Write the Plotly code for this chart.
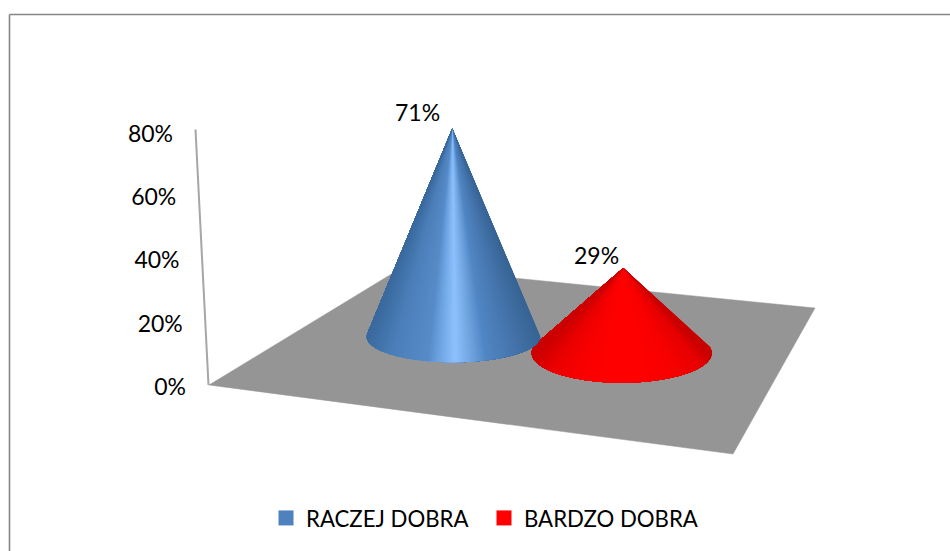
import math
import plotly.graph_objects as go

# ---- data ----
categories = ["RACZEJ DOBRA", "BARDZO DOBRA"]
values = [71, 29]
axis_ticks = [0, 20, 40, 60, 80]
tick_labels = ["0%", "20%", "40%", "60%", "80%"]

# ---- layout constants (plot uses x in px-like units, y in percent units) ----
W, H = 950, 551
PX0, PXPCT = 385.0, 3.194            # pixel row of 0 %, pixels per percent


def yd(py):
    return (PX0 - py) / PXPCT


FONT = "Lato"
FS_TICK = 23
FS_LEGEND = 22.2
FLOOR = [(209, 385), (733, 454), (815, 308), (403, 267)]
AXIS_TOP_X, AXIS_BOT_X = 195.5, 208.5
LABEL_GAP = 22.5
LABEL_ZERO_ROW = 389.5
LABEL_PITCH = 3.17

# cone placement on the floor, in the order of the categories
CONE_CX = [453.5, 621.7]
CONE_CY = [336.7, 353.0]
CONE_A = [86.7, 90.0]
CONE_B = [25.6, 29.7]
CONE_KX = [-1.2, 1.6]
HEIGHT_K = 0.918
LABEL_DX = [-35, -27]
LABEL_DY = [17, 13]
COLORS = ["#4F81BD", "#FF0000"]
STOPS = [
    [(-1.0, "#3A6A9E"), (-0.7, "#4C7EB9"), (-0.3, "#568BC8"), (-0.15, "#6FA6E4"),
     (0.02, "#8DC1FD"), (0.2, "#6FA5E0"), (0.38, "#5086C4"), (0.7, "#4675AD"), (1.0, "#386595")],
    [(-1.0, "#CC0000"), (-0.8, "#EA0000"), (-0.5, "#F90000"), (-0.1, "#FF0000"),
     (0.1, "#FF0000"), (0.6, "#F90000"), (0.9, "#E60000"), (1.0, "#C80000")],
]
SLICES = 120


def hex2rgb(h):
    return [int(h[i:i + 2], 16) for i in (1, 3, 5)]


def ramp(stops, s):
    s = max(-1.0, min(1.0, s))
    for (a, ca), (b, cb) in zip(stops, stops[1:]):
        if s <= b:
            f = (s - a) / (b - a)
            c0, c1 = hex2rgb(ca), hex2rgb(cb)
            return "rgb(%d,%d,%d)" % tuple(round(p + (q - p) * f) for p, q in zip(c0, c1))
    return stops[-1][1]


fig = go.Figure()

# floor
fig.add_trace(go.Scatter(
    x=[p[0] for p in FLOOR] + [FLOOR[0][0]],
    y=[yd(p[1]) for p in FLOOR] + [yd(FLOOR[0][1])],
    mode="lines", fill="toself", fillcolor="#959595",
    line=dict(color="#959595", width=0.5), hoverinfo="skip", showlegend=False))

# value axis
fig.add_trace(go.Scatter(
    x=[AXIS_BOT_X, AXIS_TOP_X], y=[axis_ticks[0], axis_ticks[-1]],
    mode="lines", line=dict(color="#A6A6A6", width=2), hoverinfo="skip", showlegend=False))

# tick labels follow the slanted axis
fig.add_trace(go.Scatter(
    x=[AXIS_BOT_X + (AXIS_TOP_X - AXIS_BOT_X) * t / axis_ticks[-1] - LABEL_GAP for t in axis_ticks],
    y=[yd(LABEL_ZERO_ROW - t * LABEL_PITCH) for t in axis_ticks],
    text=tick_labels, mode="text", textposition="middle left",
    textfont=dict(family=FONT, size=FS_TICK, color="#000000"), hoverinfo="skip", showlegend=False))

# cones: back one first; each slice is painted over the rest of the fan so no seams show
for i in reversed(range(len(values))):
    h = values[i] * HEIGHT_K * PXPCT
    cx, cy, a, b = CONE_CX[i], CONE_CY[i], CONE_A[i], CONE_B[i]
    ax, ay = cx + CONE_KX[i], cy - h
    t0 = -math.asin(min(0.95, b / h))
    t1 = math.pi - t0
    angles = [t0 + (t1 - t0) * k / SLICES for k in range(SLICES + 1)]
    for k in range(SLICES):
        col = ramp(STOPS[i], math.cos((angles[k] + angles[k + 1]) / 2))
        arc = angles[k:]
        fig.add_trace(go.Scatter(
            x=[ax] + [cx + a * math.cos(u) for u in arc] + [ax],
            y=[yd(ay)] + [yd(cy + b * math.sin(u)) for u in arc] + [yd(ay)],
            mode="lines", fill="toself", fillcolor=col,
            line=dict(color=col, width=0), hoverinfo="skip", showlegend=False))
    fig.add_annotation(
        x=ax, y=yd(ay), text=f"{values[i]}%", showarrow=False,
        xshift=LABEL_DX[i], yshift=LABEL_DY[i],
        font=dict(family=FONT, size=FS_TICK, color="#000000"))

# legend entries
for name, col in zip(categories, COLORS):
    fig.add_trace(go.Scatter(
        x=[None], y=[None], mode="markers", name=name,
        marker=dict(symbol="square", size=15, color=col)))

fig.update_layout(
    width=W, height=H, margin=dict(l=0, r=0, t=0, b=0),
    paper_bgcolor="#FFFFFF", plot_bgcolor="#FFFFFF",
    xaxis=dict(range=[0, W], visible=False, fixedrange=True),
    yaxis=dict(range=[yd(H), yd(0)], visible=False, fixedrange=True),
    showlegend=True,
    legend=dict(orientation="h", x=266 / W, xanchor="left", y=1 - 518 / H, yanchor="middle",
                bgcolor="rgba(0,0,0,0)", font=dict(family=FONT, size=FS_LEGEND, color="#000000"),
                itemwidth=30, entrywidth=173, entrywidthmode="pixels",
                traceorder="normal"),
    shapes=[
        dict(type="line", xref="paper", yref="paper", x0=9.5 / W, x1=1, y0=1 - 14.5 / H, y1=1 - 14.5 / H,
             line=dict(color="#868686", width=1.6)),
        dict(type="line", xref="paper", yref="paper", x0=9.5 / W, x1=9.5 / W, y0=0, y1=1 - 14.5 / H,
             line=dict(color="#868686", width=1.6)),
    ],
)

fig.write_html("out.html", config={"displayModeBar": False},
               post_script="document.body.style.margin='0';document.documentElement.style.overflow='hidden';")
